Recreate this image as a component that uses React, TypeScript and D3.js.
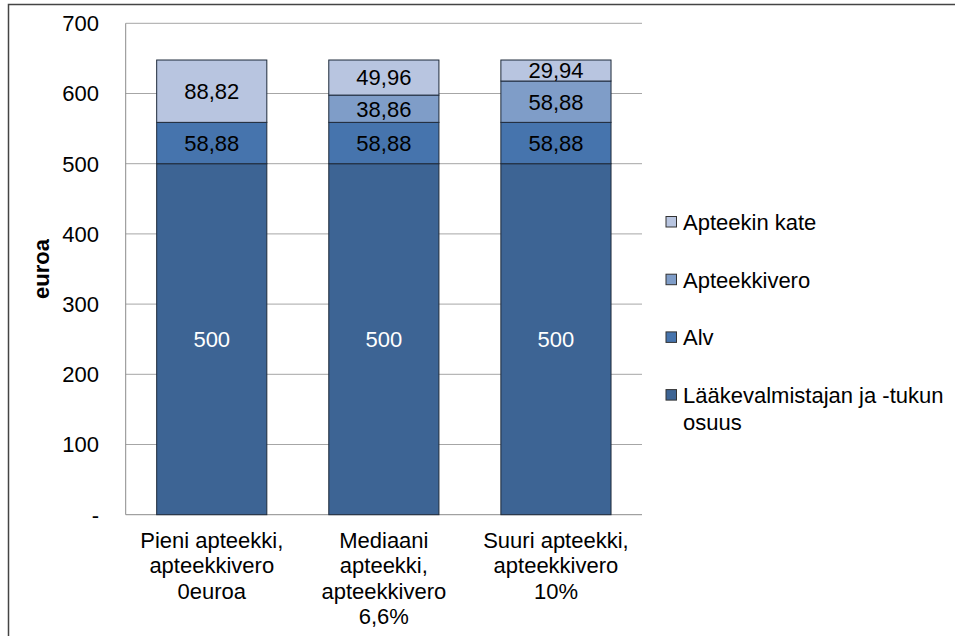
import React from "react"
import * as d3 from "d3"

const categories = [
  ["Pieni apteekki,", "apteekkivero", "0euroa"],
  ["Mediaani", "apteekki,", "apteekkivero", "6,6%"],
  ["Suuri apteekki,", "apteekkivero", "10%"],
]
const seriesNames = ["Lääkevalmistajan ja -tukun osuus", "Alv", "Apteekkivero", "Apteekin kate"]
const valmistaja = [500, 500, 500]
const alv = [58.88, 58.88, 58.88]
const vero = [0, 38.86, 58.88]
const kate = [88.82, 49.96, 29.94]
const yTicks = [0, 100, 200, 300, 400, 500, 600, 700]

const colors = ["#3d6494", "#4674ad", "#7f9dc8", "#b8c5e0"]
const labelColors = ["#ffffff", "#000000", "#000000", "#000000"]
const font = "'Liberation Sans', Arial, sans-serif"
const fs = 22

const fmt = (v: number) => (Number.isInteger(v) ? String(v) : v.toFixed(2).replace(".", ","))

const App = () => {
  const left = 125.7, right = 642, top = 23.3, bottom = 514.7
  const keys = categories.map((c) => c.join(" "))

  const x = d3.scaleBand().domain(keys).range([left, right]).paddingInner(0.36).paddingOuter(0.18)
  const y = d3.scaleLinear().domain([0, 700]).range([bottom, top])

  const rows = keys.map((k, i) => ({ key: k, s0: valmistaja[i], s1: alv[i], s2: vero[i], s3: kate[i] }))
  const stacked = d3.stack<any>().keys(["s0", "s1", "s2", "s3"])(rows)

  const legend = [
    { name: seriesNames[3], color: colors[3], lines: ["Apteekin kate"] },
    { name: seriesNames[2], color: colors[2], lines: ["Apteekkivero"] },
    { name: seriesNames[1], color: colors[1], lines: ["Alv"] },
    { name: seriesNames[0], color: colors[0], lines: ["Lääkevalmistajan ja -tukun", "osuus"] },
  ]

  return (
    <svg width={955} height={636} style={{ position: "absolute", left: 0, top: 0 }} fontFamily={font}>
      <rect x={0} y={0} width={955} height={636} fill="#fff" />
      <rect x={8.5} y={4.5} width={1000} height={700} fill="none" stroke="#444" strokeWidth={1.5} />

      {/* gridlines */}
      {yTicks.slice(1).map((t) => (
        <line key={t} x1={left} x2={right} y1={y(t)} y2={y(t)} stroke="#a6a6a6" strokeWidth={1} />
      ))}
      <line x1={left} x2={left} y1={top} y2={bottom} stroke="#8c8c8c" />
      <line x1={left} x2={right} y1={bottom} y2={bottom} stroke="#8c8c8c" />

      {/* y labels */}
      {yTicks.map((t) => (
        <text key={t} x={99} y={y(t)} dy="0.36em" textAnchor="end" fontSize={fs} fill="#000">
          {t === 0 ? "-" : t}
        </text>
      ))}
      <text transform={`translate(49,${(top + bottom) / 2}) rotate(-90)`} textAnchor="middle" fontSize={fs} fontWeight="bold">
        euroa
      </text>

      {/* bars */}
      {stacked.map((layer, li) =>
        layer.map((d, i) => {
          const v = d[1] - d[0]
          if (v <= 0) return null
          const bx = x(keys[i])!
          return (
            <g key={`${li}-${i}`}>
              <rect x={bx} y={y(d[1])} width={x.bandwidth()} height={y(d[0]) - y(d[1])} fill={colors[li]} stroke="#1e2a3a" strokeWidth={1} />
              <text x={bx + x.bandwidth() / 2} y={(y(d[0]) + y(d[1])) / 2} dy="0.36em" textAnchor="middle" fontSize={fs} fill={labelColors[li]}>
                {fmt(v)}
              </text>
            </g>
          )
        })
      )}

      {/* x labels */}
      {categories.map((lines, i) => (
        <text key={i} textAnchor="middle" fontSize={fs} fill="#000">
          {lines.map((l, j) => (
            <tspan key={j} x={x(keys[i])! + x.bandwidth() / 2} y={547.5 + j * 25.5}>
              {l}
            </tspan>
          ))}
        </text>
      ))}

      {/* legend */}
      {legend.map((item, i) => {
        const cy = 222 + i * 57.7
        return (
          <g key={item.name}>
            <rect x={666} y={cy - 5.5} width={10.5} height={10.5} fill={item.color} stroke="#333" strokeWidth={1} />
            {item.lines.map((l, j) => (
              <text key={j} x={683} y={cy + j * 26.7} dy="0.36em" fontSize={fs} fill="#000">
                {l}
              </text>
            ))}
          </g>
        )
      })}
    </svg>
  )
}

export default App
